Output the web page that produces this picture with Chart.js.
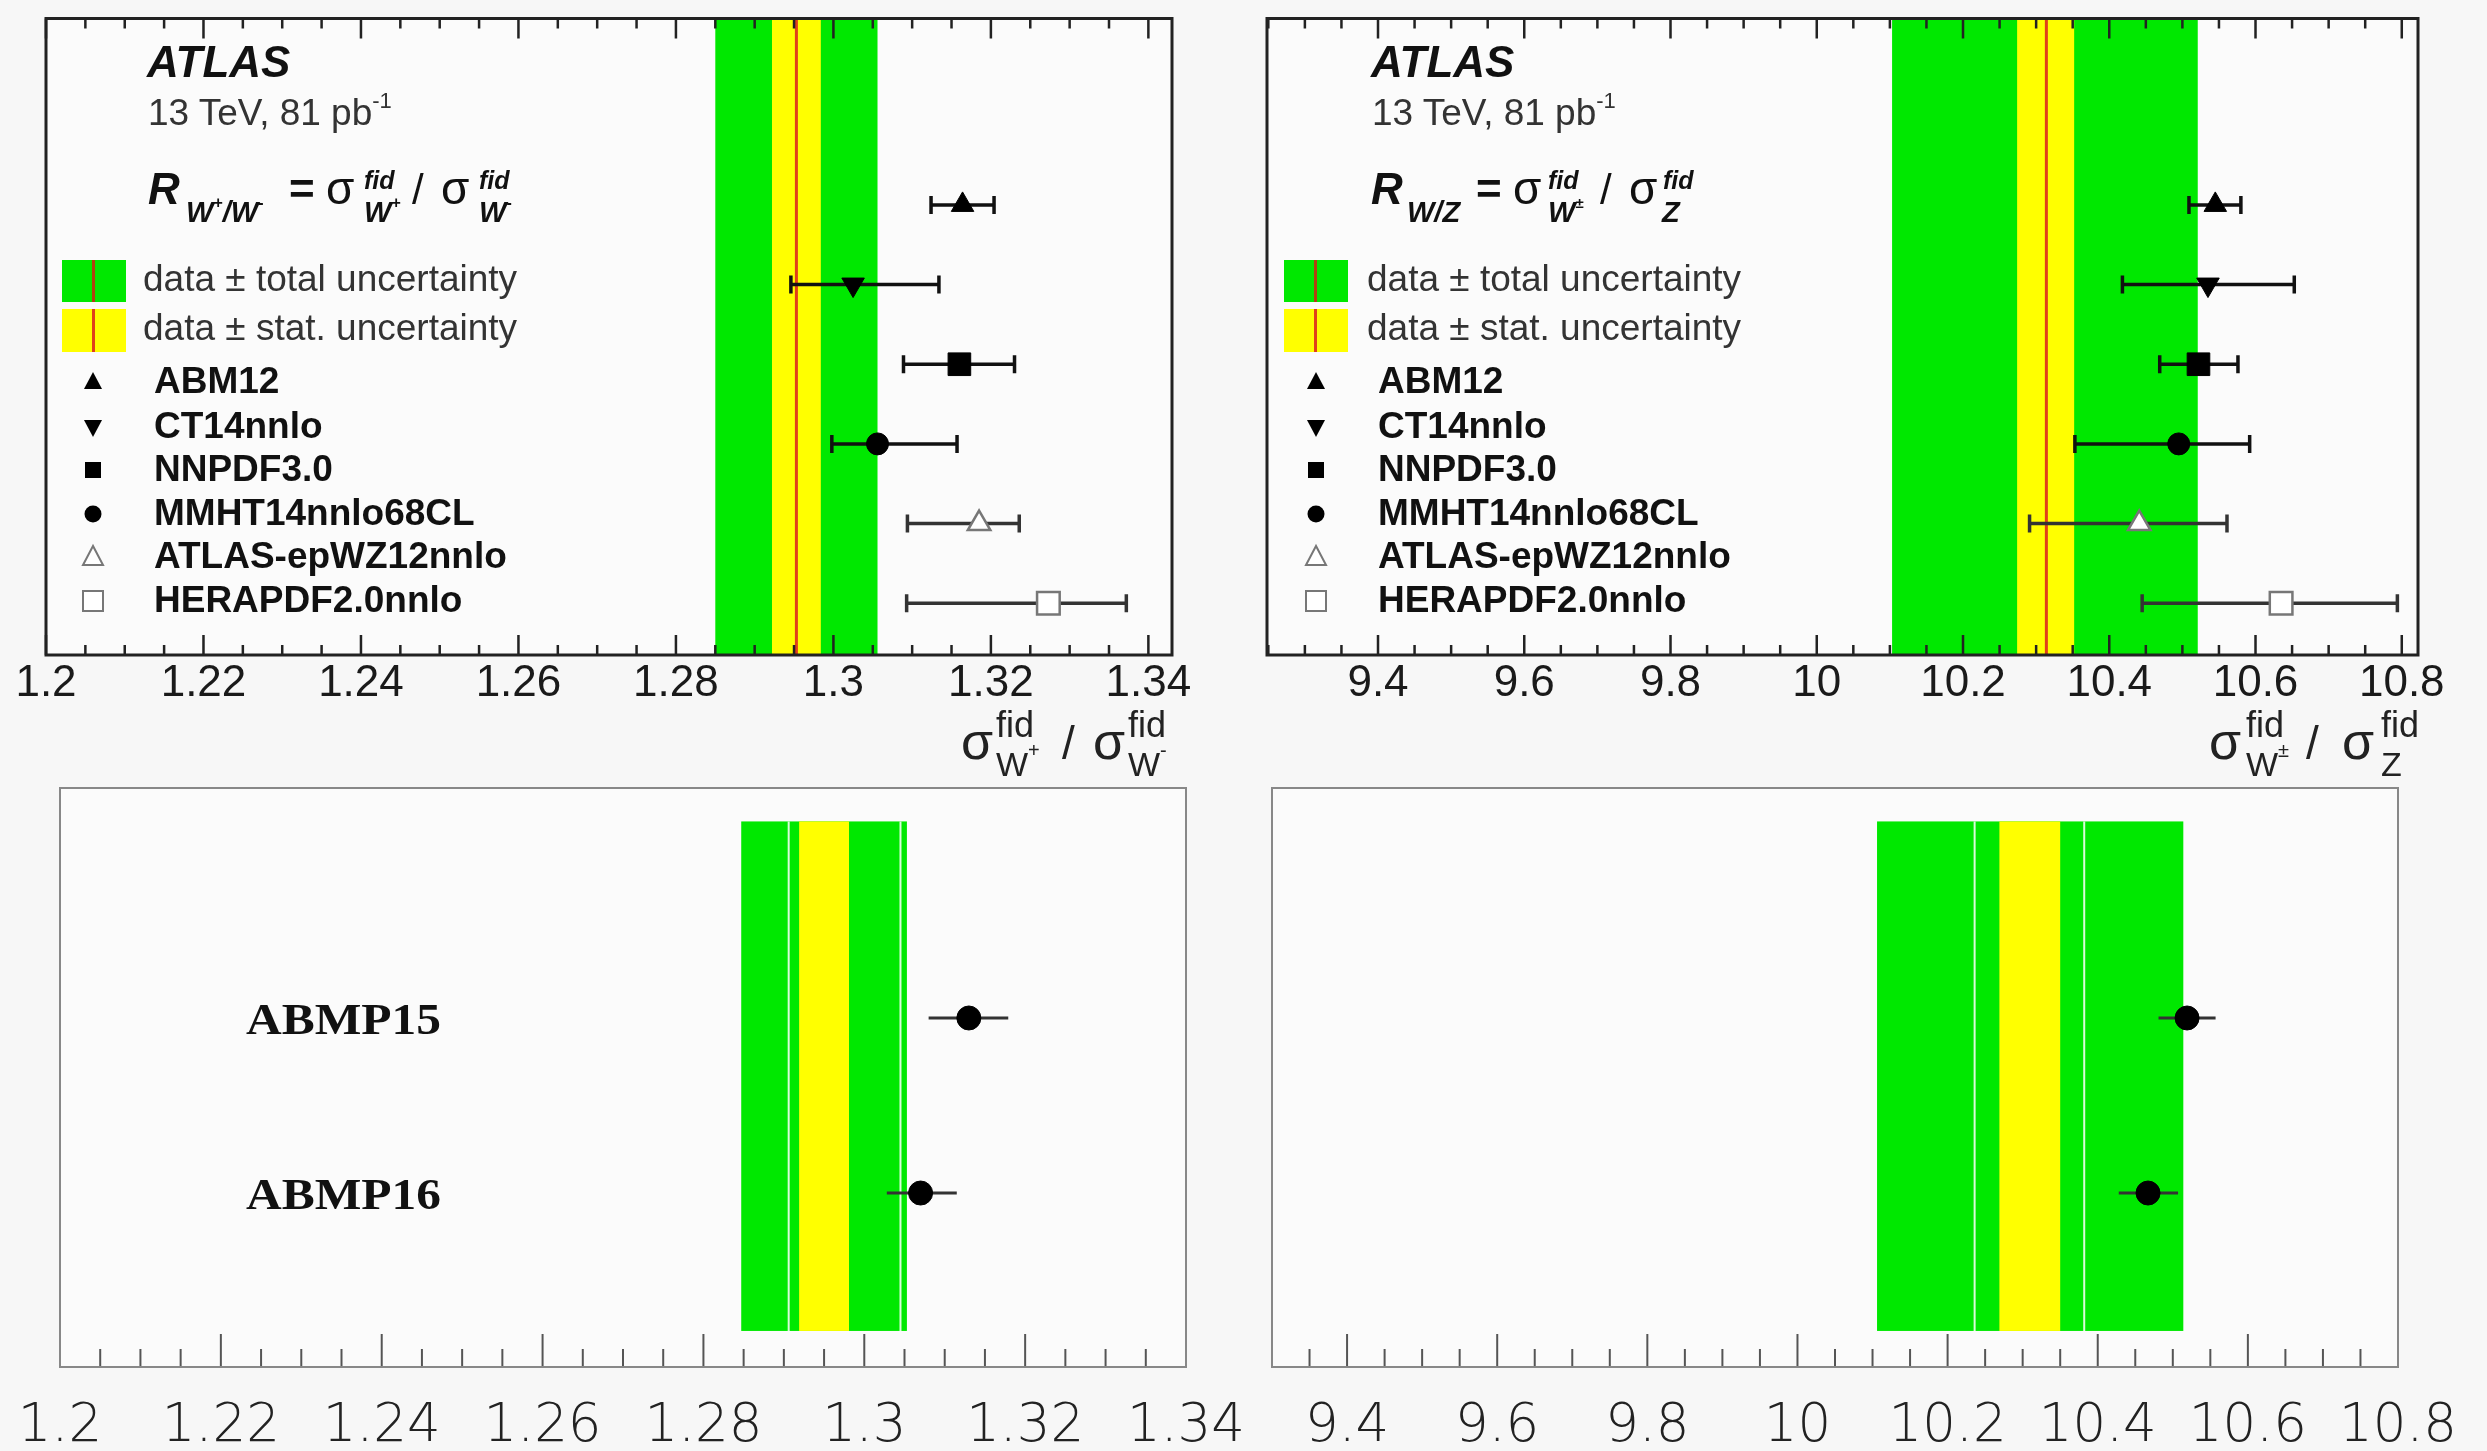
<!DOCTYPE html>
<html>
<head>
<meta charset="utf-8">
<script src="https://cdn.jsdelivr.net/npm/chart.js@4.4.1/dist/chart.umd.min.js"></script>
<style>
html,body{margin:0;padding:0;background:#f7f7f7;}
#wrap{position:relative;width:2487px;height:1451px;overflow:hidden;background:#f7f7f7;}
canvas{position:absolute;left:0;top:0;width:2487px;height:1451px;}
svg{position:absolute;left:0;top:0;}
</style>
</head>
<body>
<div id="wrap">
<canvas id="cTL" width="2487" height="1451"></canvas>
<canvas id="cTR" width="2487" height="1451"></canvas>
<canvas id="cBL" width="2487" height="1451"></canvas>
<canvas id="cBR" width="2487" height="1451"></canvas>
<svg id="ov" width="2487" height="1451" xmlns="http://www.w3.org/2000/svg"></svg>
</div>
<script>
// ---------------- DATA ----------------
const modelNames = ['ABM12', 'CT14nnlo', 'NNPDF3.0', 'MMHT14nnlo68CL', 'ATLAS-epWZ12nnlo', 'HERAPDF2.0nnlo'];

// W+/W- ratio predictions (top left)
const wpwmPred   = [1.3164, 1.3025, 1.3160, 1.3056, 1.3185, 1.3273];
const wpwmPredLo = [1.3124, 1.2946, 1.3089, 1.2998, 1.3094, 1.3093];
const wpwmPredHi = [1.3204, 1.3134, 1.3230, 1.3157, 1.3236, 1.3372];
const wpwmData  = 1.2953;
const wpwmStat  = [1.2922, 1.2984];
const wpwmTotal = [1.2850, 1.3056];

// W/Z ratio predictions (top right)
const wzPred   = [10.545, 10.535, 10.522, 10.495, 10.441, 10.635];
const wzPredLo = [10.509, 10.418, 10.469, 10.353, 10.291, 10.445];
const wzPredHi = [10.580, 10.653, 10.576, 10.592, 10.561, 10.794];
const wzData  = 10.314;
const wzStat  = [10.274, 10.352];
const wzTotal = [10.103, 10.521];

// ABMP predictions (bottom panels)
const abmpNames = ['ABMP15', 'ABMP16'];
const abmpWpwm   = [1.3130, 1.3070];
const abmpWpwmLo = [1.3080, 1.3028];
const abmpWpwmHi = [1.3179, 1.3115];
const abmpWz   = [10.519, 10.467];
const abmpWzLo = [10.481, 10.428];
const abmpWzHi = [10.557, 10.507];
const lowWpwmStat  = [1.2919, 1.2981];
const lowWpwmTotal = [1.2847, 1.3053];
const lowWpwmLines = [1.2906, 1.3045];
const lowWzStat  = [10.269, 10.350];
const lowWzTotal = [10.106, 10.514];
const lowWzLines = [10.236, 10.382];

// tick labels
const wpwmTicks  = [1.20, 1.22, 1.24, 1.26, 1.28, 1.30, 1.32, 1.34];
const wpwmLabels = ['1.2', '1.22', '1.24', '1.26', '1.28', '1.3', '1.32', '1.34'];
const wzTicks  = [9.4, 9.6, 9.8, 10.0, 10.2, 10.4, 10.6, 10.8];
const wzLabels = ['9.4', '9.6', '9.8', '10', '10.2', '10.4', '10.6', '10.8'];

// ---------------- STYLE ----------------
const GREEN = '#00e800', YELLOW = '#ffff00', RED = '#e0401a';
const SANS = "'Liberation Sans', Arial, Helvetica, sans-serif";

function minorTicks(start, end, step, majors) {
  const out = [];
  const n = Math.round((end - start) / step);
  for (let k = 0; k <= n; k++) {
    const v = start + k * step;
    if (!majors.some(m => Math.abs(m - v) < step / 10)) out.push(v);
  }
  return out;
}

function panelPlugin(p) {
  return {
    id: 'panel_' + p.key,
    beforeDraw(chart) {
      const {ctx, chartArea: a} = chart;
      ctx.save();
      ctx.fillStyle = p.plotBg;
      ctx.fillRect(a.left, a.top, a.right - a.left, a.bottom - a.top);
      ctx.restore();
    },
    beforeDatasetsDraw(chart) {
      const {ctx, chartArea: a, scales: {x, y}} = chart;
      ctx.save();
      const yT = p.bandY ? y.getPixelForValue(p.bandY[0]) : a.top;
      const yB = p.bandY ? y.getPixelForValue(p.bandY[1]) : a.bottom;
      const band = (r, col) => {
        const x0 = x.getPixelForValue(r[0]), x1 = x.getPixelForValue(r[1]);
        ctx.fillStyle = col;
        ctx.fillRect(x0, yT, x1 - x0, yB - yT);
      };
      band(p.total, GREEN);
      band(p.stat, YELLOW);
      if (p.whiteLines) {
        ctx.strokeStyle = 'rgba(255,255,255,0.85)';
        ctx.lineWidth = 2;
        p.whiteLines.forEach(v => {
          const px = x.getPixelForValue(v);
          ctx.beginPath(); ctx.moveTo(px, yT); ctx.lineTo(px, yB); ctx.stroke();
        });
      }
      if (p.center !== undefined) {
        const px = x.getPixelForValue(p.center);
        ctx.strokeStyle = RED; ctx.lineWidth = 3;
        ctx.beginPath(); ctx.moveTo(px, yT); ctx.lineTo(px, yB); ctx.stroke();
      }
      // error bars
      p.vals.forEach((v, i) => {
        const py = y.getPixelForValue(p.rows[i]);
        const x0 = x.getPixelForValue(p.lo[i]), x1 = x.getPixelForValue(p.hi[i]);
        ctx.strokeStyle = p.barColors[i];
        ctx.lineWidth = p.barWidth;
        ctx.beginPath(); ctx.moveTo(x0, py); ctx.lineTo(x1, py); ctx.stroke();
        if (p.caps) {
          ctx.beginPath();
          ctx.moveTo(x0, py - p.caps); ctx.lineTo(x0, py + p.caps);
          ctx.moveTo(x1, py - p.caps); ctx.lineTo(x1, py + p.caps);
          ctx.stroke();
        }
      });
      ctx.restore();
    },
    afterDatasetsDraw(chart) {
      const {ctx, chartArea: a, scales: {x}} = chart;
      ctx.save();
      ctx.strokeStyle = p.tickColor;
      ctx.lineWidth = p.tickWidth;
      const drawTick = (v, len) => {
        const px = x.getPixelForValue(v);
        ctx.beginPath();
        ctx.moveTo(px, a.bottom); ctx.lineTo(px, a.bottom - len);
        if (p.topTicks) { ctx.moveTo(px, a.top); ctx.lineTo(px, a.top + len); }
        ctx.stroke();
      };
      p.majors.forEach(v => drawTick(v, p.majorLen));
      minorTicks(p.minorStart, p.minorEnd, p.minorStep, p.majors).forEach(v => drawTick(v, p.minorLen));
      ctx.strokeStyle = p.frameColor;
      ctx.lineWidth = p.frameWidth;
      ctx.strokeRect(a.left, a.top, a.right - a.left, a.bottom - a.top);
      ctx.restore();
    }
  };
}

function makeChart(id, p) {
  return new Chart(document.getElementById(id), {
    type: 'scatter',
    data: {
      datasets: [{
        data: p.vals.map((v, i) => ({x: v, y: p.rows[i]})),
        pointStyle: p.pStyle,
        pointRadius: p.pRadius,
        pointHoverRadius: p.pRadius,
        pointRotation: p.pRot,
        pointBackgroundColor: p.pFill,
        pointBorderColor: p.pStroke,
        pointBorderWidth: p.pBW,
        showLine: false,
        clip: false
      }]
    },
    options: {
      responsive: false,
      animation: false,
      devicePixelRatio: 1,
      events: [],
      layout: {padding: p.pad},
      plugins: {legend: {display: false}, tooltip: {enabled: false}},
      scales: {
        x: {
          type: 'linear', position: 'bottom', min: p.xmin, max: p.xmax,
          grid: {display: false, drawTicks: false},
          border: {display: false},
          afterBuildTicks: ax => { ax.ticks = p.majors.map(v => ({value: v})); },
          afterFit: ax => { ax.height = p.axisH; },
          ticks: {
            autoSkip: false, maxRotation: 0, minRotation: 0,
            padding: p.tickPad, color: p.labelColor, font: p.tickFont,
            callback: (v, i) => p.labels[i]
          }
        },
        y: {type: 'linear', display: false, min: p.ymin, max: p.ymax, reverse: true}
      }
    },
    plugins: [panelPlugin(p)]
  });
}

const topStyle = {
  pStyle: ['triangle', 'triangle', 'rect', 'circle', 'triangle', 'rect'],
  pRadius: [13, 13, 16, 11, 13, 16],
  pRot: [0, 180, 0, 0, 0, 0],
  pFill: ['#000', '#000', '#000', '#000', '#fff', '#fff'],
  pStroke: ['#000', '#000', '#000', '#000', '#777', '#777'],
  pBW: [1, 1, 1, 1, 2.5, 2.5],
  barColors: ['#111', '#111', '#111', '#111', '#333', '#333'],
  barWidth: 3.5,
  rows: [0, 1, 2, 3, 4, 5],
  ymin: -2.34, ymax: 5.65,
  caps: 9, topTicks: true, majorLen: 20, minorLen: 10,
  tickColor: '#222', tickWidth: 2.5, frameColor: '#222', frameWidth: 3,
  plotBg: '#fbfbfb', labelColor: '#1a1a1a', tickPad: 2, axisH: 120,
  tickFont: {family: SANS, size: 44}
};
const botStyle = {
  pStyle: ['circle', 'circle'], pRadius: [12, 12], pRot: [0, 0],
  pFill: ['#000', '#000'], pStroke: ['#000', '#000'], pBW: [1, 1],
  barColors: ['#333', '#333'], barWidth: 3,
  rows: [1, 2], ymin: -0.314, ymax: 2.994, bandY: [-0.123, 2.788],
  caps: 0, topTicks: false, majorLen: 33, minorLen: 18,
  tickColor: '#555', tickWidth: 2, frameColor: '#888', frameWidth: 2,
  plotBg: '#fbfbfb', labelColor: '#222', tickPad: 0, axisH: 84,
  tickFont: {family: "'DejaVu Sans', sans-serif", size: 53, weight: 200, lineHeight: 2.26}
};

makeChart('cTL', Object.assign({}, topStyle, {
  key: 'tl', vals: wpwmPred, lo: wpwmPredLo, hi: wpwmPredHi,
  center: wpwmData, stat: wpwmStat, total: wpwmTotal,
  xmin: 1.2, xmax: 1.343, majors: wpwmTicks, labels: wpwmLabels,
  minorStart: 1.2, minorEnd: 1.34, minorStep: 0.005,
  pad: {left: 46, top: 13, right: 2487 - 1172, bottom: 1451 - 655 - 120}
}));
makeChart('cTR', Object.assign({}, topStyle, {
  key: 'tr', vals: wzPred, lo: wzPredLo, hi: wzPredHi,
  center: wzData, stat: wzStat, total: wzTotal,
  xmin: 9.2482, xmax: 10.8222, majors: wzTicks, labels: wzLabels,
  minorStart: 9.25, minorEnd: 10.8, minorStep: 0.05,
  pad: {left: 1267, top: 13, right: 2487 - 2418, bottom: 1451 - 655 - 120}
}));
makeChart('cBL', Object.assign({}, botStyle, {
  key: 'bl', vals: abmpWpwm, lo: abmpWpwmLo, hi: abmpWpwmHi,
  stat: lowWpwmStat, total: lowWpwmTotal, whiteLines: lowWpwmLines,
  xmin: 1.2, xmax: 1.34, majors: wpwmTicks, labels: wpwmLabels,
  minorStart: 1.2, minorEnd: 1.34, minorStep: 0.005,
  pad: {left: 60, top: 788, right: 2487 - 1186, bottom: 0}
}));
makeChart('cBR', Object.assign({}, botStyle, {
  key: 'br', vals: abmpWz, lo: abmpWzLo, hi: abmpWzHi,
  stat: lowWzStat, total: lowWzTotal, whiteLines: lowWzLines,
  xmin: 9.3, xmax: 10.8, majors: wzTicks, labels: wzLabels,
  minorStart: 9.3, minorEnd: 10.8, minorStep: 0.05,
  pad: {left: 1272, top: 788, right: 2487 - 2398, bottom: 0}
}));

// ---------------- TEXT OVERLAY (SVG) ----------------
const F = `font-family="Liberation Sans, Arial, Helvetica, sans-serif"`;
const BI = `font-weight="bold" font-style="italic"`;
let s = '';

function legendBlock(ox) {
  let o = '';
  o += `<text x="${147 + ox}" y="77" ${F} font-size="44" ${BI} fill="#111">ATLAS</text>`;
  o += `<text x="${148 + ox}" y="125" ${F} font-size="37" fill="#333">13 TeV, 81 pb<tspan font-size="22" dy="-17">-1</tspan></text>`;
  const bx = 62 + ox - (ox ? 2 : 0);
  o += `<rect x="${bx}" y="260" width="64" height="42" fill="${GREEN}"/>`;
  o += `<rect x="${bx + 30}" y="260" width="3" height="42" fill="#b04010"/>`;
  o += `<rect x="${bx}" y="309" width="64" height="43" fill="${YELLOW}"/>`;
  o += `<rect x="${bx + 30}" y="309" width="3" height="43" fill="${RED}"/>`;
  o += `<text x="${143 + ox}" y="291" ${F} font-size="37" fill="#333">data ± total uncertainty</text>`;
  o += `<text x="${143 + ox}" y="340" ${F} font-size="37" fill="#333">data ± stat. uncertainty</text>`;
  const base = [393, 438, 481, 525, 568, 612];
  const mx = 93 + ox - (ox ? 1 : 0);
  base.forEach((b, i) => {
    const cy = b - 11;
    let m = '';
    if (i === 0) m = `<polygon points="${mx},${cy - 10} ${mx - 9},${cy + 7} ${mx + 9},${cy + 7}" fill="#000"/>`;
    if (i === 1) m = `<polygon points="${mx - 9},${cy - 7} ${mx + 9},${cy - 7} ${mx},${cy + 10}" fill="#000"/>`;
    if (i === 2) m = `<rect x="${mx - 8}" y="${cy - 8}" width="16" height="16" fill="#000"/>`;
    if (i === 3) m = `<circle cx="${mx}" cy="${cy}" r="8.5" fill="#000"/>`;
    if (i === 4) m = `<polygon points="${mx},${cy - 11} ${mx - 10},${cy + 8} ${mx + 10},${cy + 8}" fill="#fff" stroke="#777" stroke-width="2"/>`;
    if (i === 5) m = `<rect x="${mx - 10}" y="${cy - 10}" width="20" height="20" fill="#fff" stroke="#777" stroke-width="2"/>`;
    o += m;
    o += `<text x="${154 + ox}" y="${b}" ${F} font-size="37" font-weight="bold" fill="#111">${modelNames[i]}</text>`;
  });
  return o;
}
s += legendBlock(0);
s += legendBlock(1224);

// formula top-left
s += `<text ${F} fill="#111">
 <tspan x="148" y="204" font-size="44" ${BI}>R</tspan>
 <tspan x="186" y="222" font-size="29" ${BI}>W</tspan><tspan y="208" font-size="16" font-weight="bold">+</tspan><tspan y="222" font-size="29" ${BI}>/W</tspan><tspan y="208" font-size="16" font-weight="bold">-</tspan>
 <tspan x="289" y="204" font-size="44" font-weight="bold">=</tspan>
 <tspan x="326" y="204" font-size="46">σ</tspan>
 <tspan x="364" y="189" font-size="25" ${BI}>fid</tspan>
 <tspan x="364" y="222" font-size="29" ${BI}>W</tspan><tspan y="208" font-size="16" font-weight="bold">+</tspan>
 <tspan x="412" y="204" font-size="42">/</tspan>
 <tspan x="441" y="204" font-size="46">σ</tspan>
 <tspan x="479" y="189" font-size="25" ${BI}>fid</tspan>
 <tspan x="479" y="222" font-size="29" ${BI}>W</tspan><tspan y="208" font-size="16" font-weight="bold">-</tspan>
</text>`;
// formula top-right
s += `<text ${F} fill="#111">
 <tspan x="1371" y="204" font-size="44" ${BI}>R</tspan>
 <tspan x="1407" y="222" font-size="29" ${BI}>W/Z</tspan>
 <tspan x="1476" y="204" font-size="44" font-weight="bold">=</tspan>
 <tspan x="1513" y="204" font-size="46">σ</tspan>
 <tspan x="1548" y="189" font-size="25" ${BI}>fid</tspan>
 <tspan x="1548" y="222" font-size="29" ${BI}>W</tspan><tspan y="208" font-size="15" font-weight="bold">±</tspan>
 <tspan x="1600" y="204" font-size="42">/</tspan>
 <tspan x="1629" y="204" font-size="46">σ</tspan>
 <tspan x="1663" y="189" font-size="25" ${BI}>fid</tspan>
 <tspan x="1662" y="222" font-size="29" ${BI}>Z</tspan>
</text>`;

// axis titles
s += `<text ${F} fill="#222">
 <tspan x="961" y="759" font-size="52">σ</tspan>
 <tspan x="996" y="737" font-size="36">fid</tspan>
 <tspan x="996" y="776" font-size="34">W</tspan><tspan y="757" font-size="20">+</tspan>
 <tspan x="1062" y="759" font-size="46">/</tspan>
 <tspan x="1093" y="759" font-size="52">σ</tspan>
 <tspan x="1128" y="737" font-size="36">fid</tspan>
 <tspan x="1128" y="776" font-size="34">W</tspan><tspan y="757" font-size="20">-</tspan>
</text>`;
s += `<text ${F} fill="#222">
 <tspan x="2209" y="759" font-size="52">σ</tspan>
 <tspan x="2246" y="737" font-size="36">fid</tspan>
 <tspan x="2246" y="776" font-size="34">W</tspan><tspan y="757" font-size="20">±</tspan>
 <tspan x="2306" y="759" font-size="46">/</tspan>
 <tspan x="2342" y="759" font-size="52">σ</tspan>
 <tspan x="2381" y="737" font-size="36">fid</tspan>
 <tspan x="2381" y="776" font-size="34">Z</tspan>
</text>`;

// ABMP labels
s += `<text x="246" y="1034" font-family="Liberation Serif, 'Times New Roman', serif" font-weight="bold" font-size="45" textLength="195" lengthAdjust="spacingAndGlyphs" fill="#111">${abmpNames[0]}</text>`;
s += `<text x="246" y="1209" font-family="Liberation Serif, 'Times New Roman', serif" font-weight="bold" font-size="45" textLength="195" lengthAdjust="spacingAndGlyphs" fill="#111">${abmpNames[1]}</text>`;

document.getElementById('ov').innerHTML = s;
</script>
</body>
</html>
